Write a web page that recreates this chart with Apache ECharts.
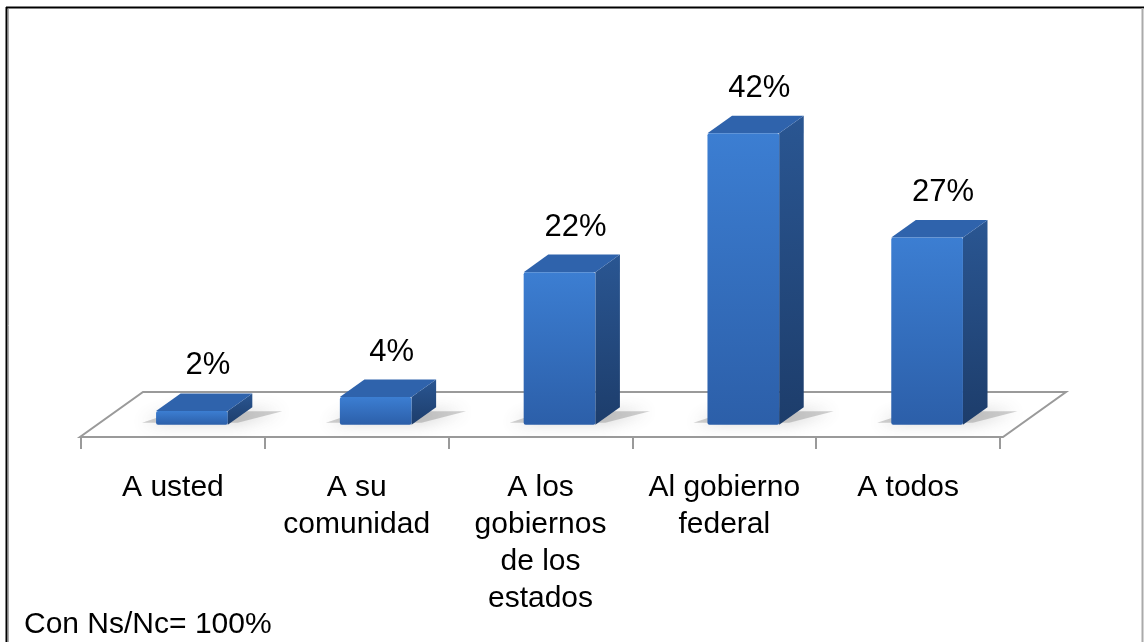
<!DOCTYPE html>
<html>
<head>
<meta charset="utf-8">
<script src="https://cdn.jsdelivr.net/npm/echarts@6/dist/echarts.min.js"></script>
<style>
  html, body { margin: 0; padding: 0; background: #fff; }
  #chart { width: 1144px; height: 642px; }
</style>
</head>
<body>
<div id="chart"></div>
<script>
const categories = ['A usted', 'A su\ncomunidad', 'A los\ngobiernos\nde los\nestados', 'Al gobierno\nfederal', 'A todos']
const values = [2, 4, 22, 42, 27]
const footnote = 'Con Ns/Nc= 100%'

// oblique floor depth (px) and where the boxes sit in it
const DX = 63
const DY = -45
const F0 = 0.27
const F1 = 0.66

const myChart = echarts.init(document.getElementById('chart'))

function renderFloor(params, api) {
  const cs = params.coordSys
  const y0 = cs.y + cs.height
  const x0 = cs.x - 1
  const x1 = cs.x + cs.width + 3
  return {
    type: 'polygon',
    shape: { points: [[x0, y0], [x1, y0], [x1 + DX, y0 + DY], [x0 + DX, y0 + DY]] },
    style: { fill: '#fff', stroke: '#9a9a9a', lineWidth: 2 },
    z2: 0
  }
}

function renderBar(params, api) {
  const i = api.value(0)
  const v = api.value(1)
  const base = api.coord([i, 0])
  const top = api.coord([i, v])
  const band = api.size([1, 0])[0]
  const w = band * 0.39
  const x0 = base[0] + F0 * DX - w / 2 + 2
  const x1 = x0 + w
  const yb = base[1] + F0 * DY
  const yt = top[1] + F0 * DY
  const bx = (F1 - F0) * DX
  const by = (F1 - F0) * DY
  return {
    type: 'group',
    children: [
      {
        // soft shadow on the floor
        type: 'polygon',
        shape: { points: [[x0 - 14, yb - 2], [x1 + 10, yb - 2], [x1 + bx + 30, yb + by + 4], [x0 + bx - 4, yb + by + 4]] },
        style: { fill: 'rgba(120,120,120,0.35)', shadowBlur: 16, shadowColor: 'rgba(90,90,90,0.9)' }
      },
      {
        type: 'polygon',
        shape: { points: [[x1, yt], [x1 + bx, yt + by], [x1 + bx, yb + by], [x1, yb]] },
        style: {
          fill: new echarts.graphic.LinearGradient(0, 0, 0, 1, [
            { offset: 0, color: '#2a5692' },
            { offset: 1, color: '#1d3d6b' }
          ])
        }
      },
      {
        type: 'polygon',
        shape: { points: [[x0, yt], [x1, yt], [x1 + bx, yt + by], [x0 + bx, yt + by]] },
        style: { fill: '#2f63ac' }
      },
      {
        type: 'rect',
        shape: { x: x0, y: yt, width: w, height: yb - yt, r: 2 },
        style: {
          fill: new echarts.graphic.LinearGradient(0, 0, 0, 1, [
            { offset: 0, color: '#3c7ed2' },
            { offset: 1, color: '#2c5fa9' }
          ])
        }
      },
      {
        type: 'text',
        x: x0 + w / 2 + 16,
        y: yt + by - 12,
        style: {
          text: v + '%',
          fontFamily: 'Liberation Sans, Arial, sans-serif',
          fontSize: 31,
          fill: '#000',
          align: 'center',
          verticalAlign: 'bottom'
        }
      }
    ]
  }
}

myChart.setOption({
  animation: false,
  backgroundColor: '#fff',
  grid: { left: 81, right: 144, top: 90, bottom: 205, outerBoundsMode: 'none' },
  xAxis: {
    type: 'category',
    data: categories,
    boundaryGap: true,
    axisLine: { show: false },
    axisTick: { show: true, length: 12, lineStyle: { color: '#9a9a9a', width: 2 } },
    axisLabel: {
      color: '#000',
      fontFamily: 'Liberation Sans, Arial, sans-serif',
      fontSize: 30,
      lineHeight: 37,
      margin: 32,
      interval: 0
    }
  },
  yAxis: { type: 'value', min: 0, max: 50, show: false },
  graphic: [
    { type: 'line', shape: { x1: 6, y1: 7.5, x2: 1144, y2: 7.5 }, style: { stroke: '#000', lineWidth: 2 } },
    { type: 'line', shape: { x1: 6.5, y1: 7, x2: 6.5, y2: 642 }, style: { stroke: '#000', lineWidth: 2 } },
    { type: 'line', shape: { x1: 8.5, y1: 9, x2: 8.5, y2: 642 }, style: { stroke: '#aaa', lineWidth: 1 } },
    { type: 'line', shape: { x1: 1142.5, y1: 8, x2: 1142.5, y2: 642 }, style: { stroke: '#aaa', lineWidth: 2 } },
    {
      type: 'text', left: 24, top: 610,
      style: { text: footnote, fontFamily: 'Liberation Sans, Arial, sans-serif', fontSize: 30, fill: '#000' }
    }
  ],
  series: [
    {
      type: 'custom',
      renderItem: renderFloor,
      data: [[0, 0]],
      z: 1,
      silent: true
    },
    {
      type: 'custom',
      renderItem: renderBar,
      data: values.map((v, i) => [i, v]),
      z: 2
    }
  ]
})
</script>
</body>
</html>
